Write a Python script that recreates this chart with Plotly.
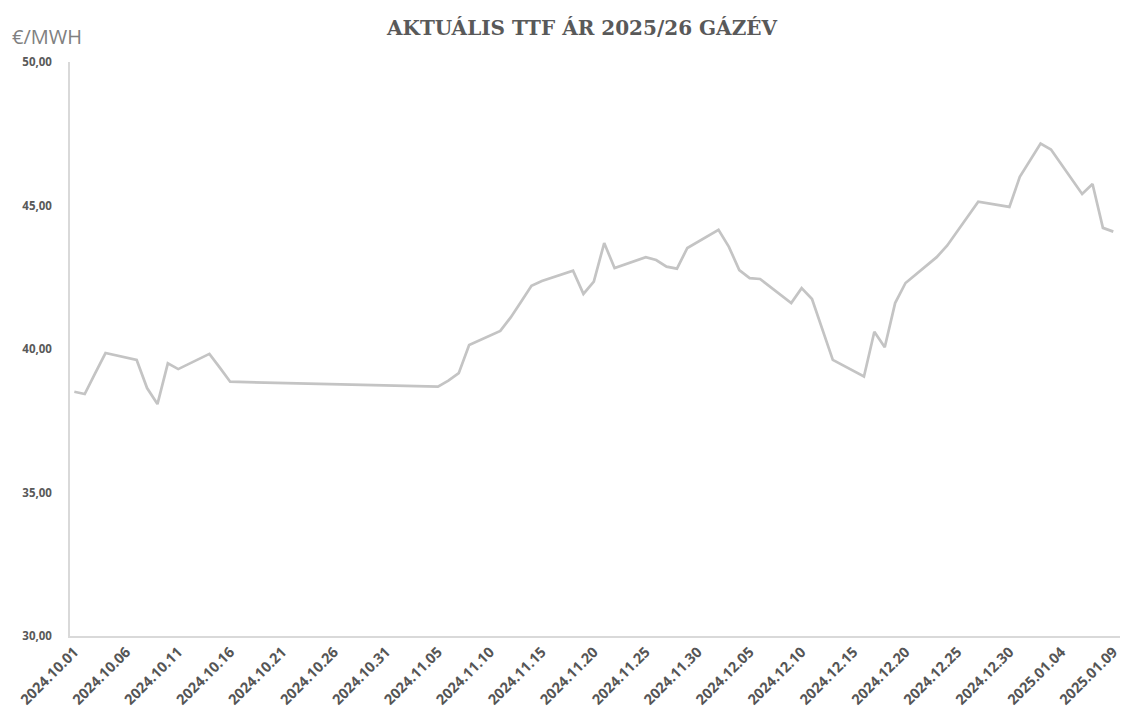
import plotly.graph_objects as go

dates = [
    "2024-10-01", "2024-10-02", "2024-10-03", "2024-10-04", "2024-10-07",
    "2024-10-08", "2024-10-09", "2024-10-10", "2024-10-11", "2024-10-14",
    "2024-10-15", "2024-10-16", "2024-11-05", "2024-11-06", "2024-11-07",
    "2024-11-08", "2024-11-11", "2024-11-12", "2024-11-13", "2024-11-14",
    "2024-11-15", "2024-11-18", "2024-11-19", "2024-11-20", "2024-11-21",
    "2024-11-22", "2024-11-25", "2024-11-26", "2024-11-27", "2024-11-28",
    "2024-11-29", "2024-12-02", "2024-12-03", "2024-12-04", "2024-12-05",
    "2024-12-06", "2024-12-09", "2024-12-10", "2024-12-11", "2024-12-12",
    "2024-12-13", "2024-12-16", "2024-12-17", "2024-12-18", "2024-12-19",
    "2024-12-20", "2024-12-23", "2024-12-24", "2024-12-27", "2024-12-30",
    "2024-12-31", "2025-01-02", "2025-01-03", "2025-01-06", "2025-01-07",
    "2025-01-08", "2025-01-09",
]
prices = [
    38.51, 38.43, 39.15, 39.86, 39.62,
    38.64, 38.08, 39.50, 39.30, 39.83,
    39.35, 38.86, 38.69, 38.90, 39.16,
    40.14, 40.63, 41.10, 41.65, 42.20,
    42.37, 42.73, 41.92, 42.35, 43.69,
    42.82, 43.20, 43.10, 42.87, 42.80,
    43.52, 44.15, 43.56, 42.75, 42.47,
    42.44, 41.60, 42.12, 41.74, 40.70,
    39.62, 39.04, 40.60, 40.06, 41.60,
    42.30, 43.20, 43.60, 45.13, 44.95,
    46.00, 47.16, 46.95, 45.40, 45.75,
    44.22, 44.09,
]
y_ticks = [30, 35, 40, 45, 50]
title_text = "AKTUÁLIS TTF ÁR 2025/26 GÁZÉV"
unit_text = "€/MWH"

fig = go.Figure()
fig.add_trace(go.Scatter(
    x=dates, y=prices, mode="lines",
    line=dict(color="#c4c4c4", width=2.7),
    showlegend=False, hoverinfo="x+y",
))

fig.update_layout(
    width=1120, height=711,
    margin=dict(l=62, r=3, t=54, b=83),
    paper_bgcolor="white", plot_bgcolor="white",
    separators=", ",
    title=dict(
        text=title_text,
        font=dict(family="DejaVu Serif", size=20, color="#595959", weight="bold"),
        x=0.5125, xref="container", xanchor="center",
        y=0.972, yref="container", yanchor="middle",
    ),
    annotations=[dict(
        text=unit_text, showarrow=False,
        xref="paper", yref="paper", x=-0.057, y=1.0436,
        xanchor="left", yanchor="middle",
        font=dict(family="Open Sans", size=20, color="#808080"),
    )],
)

fig.update_xaxes(
    type="date",
    range=["2024-09-30 14:00", "2025-01-10 03:00"],
    tick0="2024-10-01", dtick=5 * 86400000,
    tickformat="%Y.%m.%d", tickangle=-45,
    tickfont=dict(family="Open Sans", size=14.5, color="#555555", weight="bold"),
    showgrid=False, zeroline=False,
    showline=True, linecolor="#d9d9d9", linewidth=1.5,
    ticks="", automargin=False,
)
fig.update_yaxes(
    range=[30, 50], tickvals=y_ticks, tickformat=".2f",
    tickfont=dict(family="Open Sans", size=11.5, color="#595959", weight="bold"),
    showgrid=False, zeroline=False,
    showline=True, linecolor="#d9d9d9", linewidth=1.5,
    ticks="", ticklabelstandoff=14, automargin=False,
)

fig.write_html("out.html")
